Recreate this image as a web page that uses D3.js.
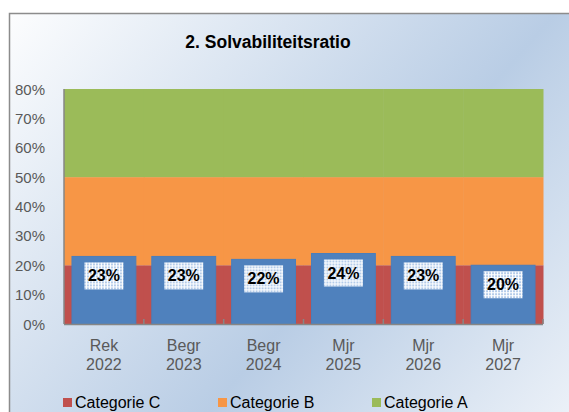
<!DOCTYPE html>
<html><head><meta charset="utf-8">
<script src="https://cdn.jsdelivr.net/npm/d3@7"></script>
<style>html,body{margin:0;padding:0;background:#fff;}svg{display:block;}</style>
</head><body>
<script>
const categories = [["Rek","2022"],["Begr","2023"],["Begr","2024"],["Mjr","2025"],["Mjr","2026"],["Mjr","2027"]];
const catC = [0.20,0.20,0.20,0.20,0.20,0.20];
const catB = [0.30,0.30,0.30,0.30,0.30,0.30];
const catA = [0.30,0.30,0.30,0.30,0.30,0.30];
const ratio = [0.23,0.23,0.22,0.24,0.23,0.20];
const ratioLabels = ["23%","23%","22%","24%","23%","20%"];
const yTicks = [0,0.1,0.2,0.3,0.4,0.5,0.6,0.7,0.8];
const seriesNames = ["Categorie C","Categorie B","Categorie A"];
const seriesColors = ["#c0504d","#f79646","#9bbb59"];

const W=569,H=412;
const svg=d3.select("body").append("svg").attr("width",W).attr("height",H);
const defs=svg.append("defs");
const g=defs.append("linearGradient").attr("id","bg").attr("gradientUnits","userSpaceOnUse")
 .attr("x1",0).attr("y1",0).attr("x2",565).attr("y2",493);
g.append("stop").attr("offset",0).attr("stop-color","#ffffff");
g.append("stop").attr("offset",0.57).attr("stop-color","#b9cde5");
g.append("stop").attr("offset",1).attr("stop-color","#f4f7fb");
const pat=defs.append("pattern").attr("id","dots").attr("patternUnits","userSpaceOnUse").attr("width",3).attr("height",3);
pat.append("rect").attr("width",3).attr("height",3).attr("fill","#b3cbe9");
pat.append("rect").attr("width",3).attr("height",1).attr("fill","#ffffff");
pat.append("rect").attr("width",1).attr("height",3).attr("fill","#ffffff");

svg.append("rect").attr("x",0).attr("y",0).attr("width",W).attr("height",H).attr("fill","#fff");
svg.append("rect").attr("x",9.5).attr("y",13.5).attr("width",W+20).attr("height",H+20)
 .attr("fill","url(#bg)").attr("stroke","#8c8c8c").attr("stroke-width",1.5);

const L=64,R=543,T=89,B=324;
const x=d3.scaleBand().domain(d3.range(categories.length)).range([L,R]).paddingInner(0).paddingOuter(0);
const y=d3.scaleLinear().domain([0,0.8]).range([B,T]);

// stacked background series
const stackData=categories.map((c,i)=>({i,C:catC[i],B:catB[i],A:catA[i]}));
const stack=d3.stack().keys(["C","B","A"])(stackData);
stack.forEach((s,k)=>{
  svg.append("g").selectAll("rect").data(s).join("rect")
   .attr("x",d=>x(d.data.i)).attr("width",x.bandwidth()+0.5)
   .attr("y",d=>y(d[1])).attr("height",d=>y(d[0])-y(d[1]))
   .attr("fill",seriesColors[k]);
});

// blue bars
const bw=x.bandwidth()*0.8;
svg.append("g").selectAll("rect").data(ratio).join("rect")
 .attr("x",(d,i)=>x(i)+(x.bandwidth()-bw)/2).attr("width",bw)
 .attr("y",d=>y(d)).attr("height",d=>B-y(d))
 .attr("fill","#4f81bd").attr("stroke","#4a7ebb").attr("stroke-width",1);

// labels
const lw=39,lh=27;
const lab=svg.append("g").selectAll("g").data(ratio).join("g")
 .attr("transform",(d,i)=>`translate(${x(i)+x.bandwidth()/2},${y(d)+6})`);
lab.append("rect").attr("x",-lw/2).attr("y",0).attr("width",lw).attr("height",lh).attr("fill","url(#dots)");
lab.append("text").attr("x",0).attr("y",lh/2+5.5).attr("text-anchor","middle")
 .attr("font-family","Liberation Sans, Arial, sans-serif").attr("font-weight","bold").attr("font-size",16)
 .attr("fill","#000").text((d,i)=>ratioLabels[i]);

// axes
svg.append("line").attr("x1",L).attr("x2",L).attr("y1",T).attr("y2",B).attr("stroke","#868686").attr("stroke-width",1.5);
svg.append("line").attr("x1",L).attr("x2",R).attr("y1",B+0.5).attr("y2",B+0.5).attr("stroke","#868686").attr("stroke-width",1.5);
svg.append("g").selectAll("line").data(d3.range(1,categories.length+1)).join("line")
 .attr("x1",i=>i<categories.length?x(i):R).attr("x2",i=>i<categories.length?x(i):R)
 .attr("y1",B-5).attr("y2",B).attr("stroke","#868686").attr("stroke-width",1.5);

svg.append("g").selectAll("text").data(yTicks).join("text")
 .attr("x",45).attr("y",d=>y(d)+5.5).attr("text-anchor","end")
 .attr("font-family","Liberation Sans, Arial, sans-serif").attr("font-size",15).attr("fill","#595959")
 .text(d=>d3.format(".0%")(d));

const xl=svg.append("g").selectAll("text").data(categories).join("text")
 .attr("text-anchor","middle").attr("font-family","Liberation Sans, Arial, sans-serif")
 .attr("font-size",16).attr("fill","#595959");
xl.append("tspan").attr("x",(d,i)=>x(i)+x.bandwidth()/2).attr("y",351).text(d=>d[0]);
xl.append("tspan").attr("x",(d,i)=>x(i)+x.bandwidth()/2).attr("y",370).text(d=>d[1]);

// title
svg.append("text").attr("x",268).attr("y",48).attr("text-anchor","middle")
 .attr("font-family","Liberation Sans, Arial, sans-serif").attr("font-weight","bold").attr("font-size",17.5)
 .attr("fill","#000").text("2. Solvabiliteitsratio");

// legend
const legX=[63,218,372];
const leg=svg.append("g").selectAll("g").data(seriesNames).join("g")
 .attr("transform",(d,i)=>`translate(${legX[i]},0)`);
leg.append("rect").attr("x",0).attr("y",398).attr("width",9).attr("height",9).attr("fill",(d,i)=>seriesColors[i]);
leg.append("text").attr("x",12).attr("y",407.5).attr("font-family","Liberation Sans, Arial, sans-serif")
 .attr("font-size",16).attr("fill","#000").text(d=>d);
</script>
</body></html>
